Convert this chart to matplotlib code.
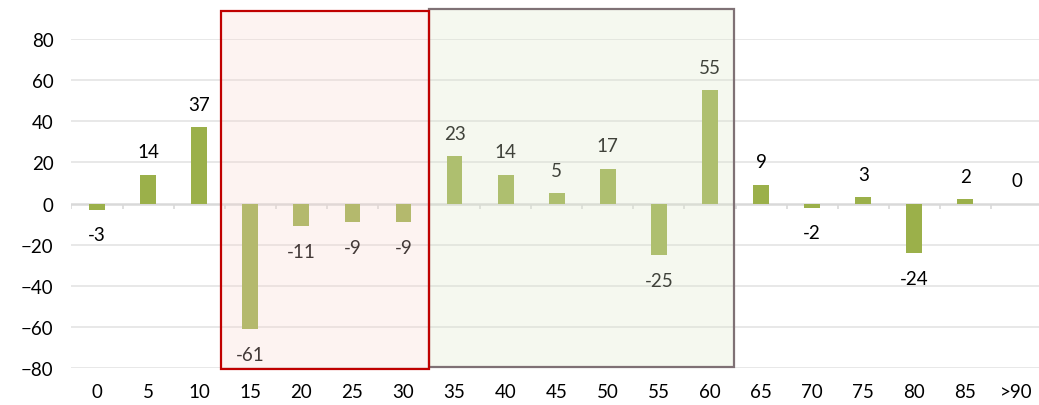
import matplotlib
matplotlib.use("Agg")
import matplotlib.pyplot as plt
from matplotlib.patches import Rectangle

plt.rcParams['font.family'] = ['Lato', 'DejaVu Sans']

categories = ["0", "5", "10", "15", "20", "25", "30", "35", "40", "45",
              "50", "55", "60", "65", "70", "75", "80", "85", ">90"]
values = [-3, 14, 37, -61, -11, -9, -9, 23, 14, 5, 17, -25, 55, 9, -2, 3, -24, 2, 0]
yticks = [-80, -60, -40, -20, 0, 20, 40, 60, 80]

bar_color = "#9BB04A"

fig = plt.figure(figsize=(10.39, 4.06), dpi=100)
ax = fig.add_axes([0.0688, 0.0911, 0.9326, 0.8103])

x = list(range(len(categories)))
ax.bar(x, values, width=0.31, color=bar_color, zorder=2)

for xi, v in zip(x, values):
    if v >= 0:
        ax.annotate(str(v), (xi, v), xytext=(0, 10.5), textcoords="offset points",
                    ha="center", va="bottom", fontsize=13.5, color="black", zorder=3)
    else:
        ax.annotate(str(v), (xi, v), xytext=(0, -12), textcoords="offset points",
                    ha="center", va="top", fontsize=13.5, color="black", zorder=3)

# grid + zero line + small ticks at category boundaries
for t in yticks:
    if t != 0:
        ax.axhline(t, color="#E6E6E6", lw=1.3, zorder=0)
ax.axhline(0, color="#D9D9D9", lw=1.8, zorder=1)
ax.vlines([i - 0.5 for i in range(len(categories))], -2.6, 0, color="#D9D9D9", lw=1.2, zorder=1)

# highlighted ranges
ax.add_patch(Rectangle((6.49, -79.6), 5.98, 174.2, facecolor=(221/255, 231/255, 203/255, 0.29),
                       edgecolor="#7F7175", lw=1.6, zorder=4, clip_on=False))
ax.add_patch(Rectangle((2.43, -80.6), 4.06, 174.2, facecolor=(248/255, 212/255, 206/255, 0.27),
                       edgecolor="#C00000", lw=1.6, zorder=5, clip_on=False))

ax.set_xlim(-0.5, 18.47)
ax.set_ylim(-80, 80)
ax.set_xticks(x)
ax.set_xticklabels(categories)
ax.set_yticks(yticks)
ax.tick_params(axis="both", length=0, labelsize=13.5, colors="black")
ax.tick_params(axis="x", pad=11)
ax.tick_params(axis="y", pad=13)
for s in ax.spines.values():
    s.set_visible(False)

fig.savefig("out.png", dpi=100)
